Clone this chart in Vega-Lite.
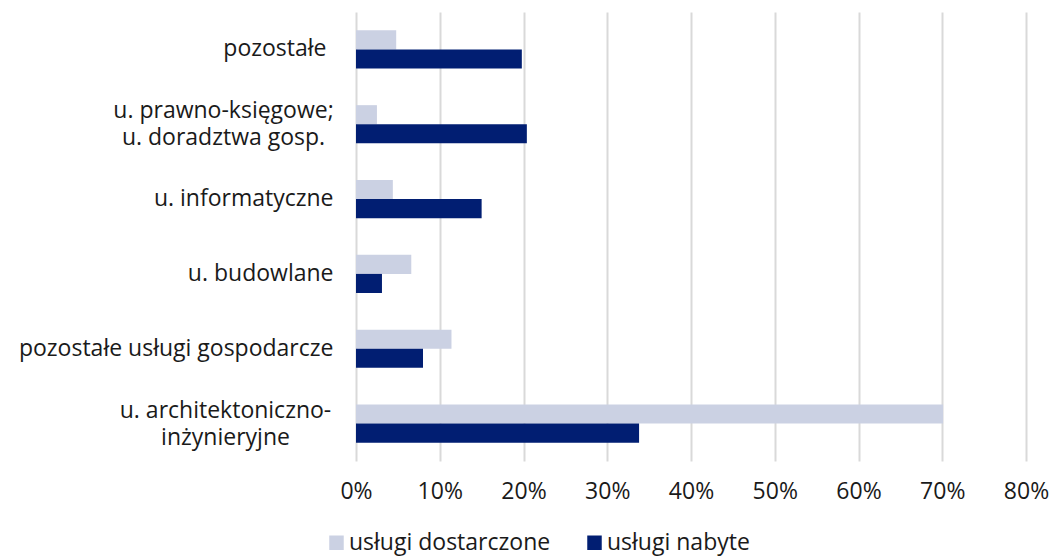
{
  "$schema": "https://vega.github.io/schema/vega-lite/v6.json",
  "width": 670,
  "height": 449,
  "autosize": {"type": "none"},
  "padding": {"left": 356, "top": 12, "right": 25, "bottom": 95},
  "background": "white",
  "config": {
    "view": {"stroke": null},
    "font": "Open Sans",
    "axis": {"labelFont": "Open Sans", "labelColor": "#1a1a1a"},
    "legend": {"labelFont": "Open Sans"}
  },
  "data": {
    "values": [
      {"kategoria": "pozostałe", "seria": "usługi dostarczone", "wartosc": 4.8},
      {"kategoria": "pozostałe", "seria": "usługi nabyte", "wartosc": 19.8},
      {"kategoria": "u. prawno-księgowe;\nu. doradztwa gosp.", "seria": "usługi dostarczone", "wartosc": 2.5},
      {"kategoria": "u. prawno-księgowe;\nu. doradztwa gosp.", "seria": "usługi nabyte", "wartosc": 20.4},
      {"kategoria": "u. informatyczne", "seria": "usługi dostarczone", "wartosc": 4.4},
      {"kategoria": "u. informatyczne", "seria": "usługi nabyte", "wartosc": 15.0},
      {"kategoria": "u. budowlane", "seria": "usługi dostarczone", "wartosc": 6.6},
      {"kategoria": "u. budowlane", "seria": "usługi nabyte", "wartosc": 3.1},
      {"kategoria": "pozostałe usługi gospodarcze", "seria": "usługi dostarczone", "wartosc": 11.4},
      {"kategoria": "pozostałe usługi gospodarcze", "seria": "usługi nabyte", "wartosc": 8.0},
      {"kategoria": "u. architektoniczno-\ninżynieryjne", "seria": "usługi dostarczone", "wartosc": 70.1},
      {"kategoria": "u. architektoniczno-\ninżynieryjne", "seria": "usługi nabyte", "wartosc": 33.8}
    ]
  },
  "mark": {"type": "bar"},
  "encoding": {
    "y": {
      "field": "kategoria",
      "type": "nominal",
      "sort": null,
      "title": null,
      "scale": {"paddingInner": 0.49, "paddingOuter": 0.245},
      "axis": {
        "domain": false,
        "ticks": false,
        "labelFontSize": 23,
        "labelLimit": 400,
        "labelLineHeight": 27,
        "labelExpr": "split(datum.label, '\\n')",
        "labelAlign": {"condition": {"test": "indexof(datum.value, '\\n') >= 0", "value": "center"}, "value": "right"},
        "labelPadding": {
          "condition": [
            {"test": "indexof(datum.value, 'prawno') >= 0", "value": 133},
            {"test": "indexof(datum.value, 'architekton') >= 0", "value": 131},
            {"test": "datum.value === 'pozostałe'", "value": 30}
          ],
          "value": 23
        },
        "labelOffset": {"condition": {"test": "indexof(datum.value, '\\n') >= 0", "value": -13}, "value": 0}
      }
    },
    "yOffset": {
      "field": "seria",
      "type": "nominal",
      "sort": ["usługi dostarczone", "usługi nabyte"]
    },
    "x": {
      "field": "wartosc",
      "type": "quantitative",
      "title": null,
      "scale": {"domain": [0, 80], "nice": false},
      "axis": {
        "values": [0, 10, 20, 30, 40, 50, 60, 70, 80],
        "labelExpr": "datum.value + '%'",
        "labelFlush": false,
        "domain": false,
        "ticks": false,
        "grid": true,
        "gridColor": "#d9d9d9",
        "gridWidth": 2,
        "labelPadding": 19,
        "labelFontSize": 23
      }
    },
    "color": {
      "field": "seria",
      "type": "nominal",
      "sort": ["usługi dostarczone", "usługi nabyte"],
      "scale": {"domain": ["usługi dostarczone", "usługi nabyte"], "range": ["#CBD1E3", "#011E72"]},
      "legend": {
        "title": null,
        "orient": "none",
        "direction": "horizontal",
        "legendX": -31,
        "legendY": 519,
        "symbolType": "square",
        "symbolSize": 210,
        "symbolStrokeWidth": 0,
        "labelFontSize": 23,
        "labelLimit": 400,
        "labelColor": "#1a1a1a",
        "labelOffset": 1,
        "columnPadding": 32
      }
    }
  }
}
